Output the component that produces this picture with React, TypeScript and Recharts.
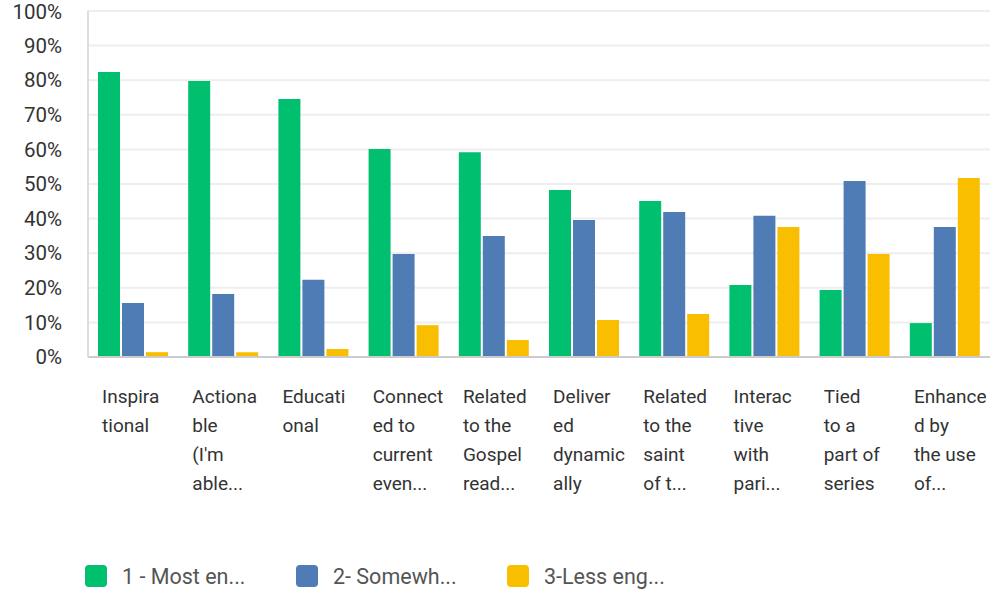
import React from "react";
import {
  BarChart,
  Bar,
  XAxis,
  YAxis,
  CartesianGrid,
  Legend,
} from "recharts";

// category labels, already wrapped the way the reference shows them
const categoryLines: string[][] = [
  ["Inspira", "tional"],
  ["Actiona", "ble", "(I'm", "able..."],
  ["Educati", "onal"],
  ["Connect", "ed to", "current", "even..."],
  ["Related", "to the", "Gospel", "read..."],
  ["Deliver", "ed", "dynamic", "ally"],
  ["Related", "to the", "saint", "of t..."],
  ["Interac", "tive", "with", "pari..."],
  ["Tied", "to a", "part of", "series"],
  ["Enhance", "d by", "the use", "of..."],
];

const mostEngaging = [82.4, 79.8, 74.6, 60.1, 59.2, 48.3, 45.1, 20.8, 19.4, 9.8];
const somewhatEngaging = [15.6, 18.2, 22.3, 29.8, 35.0, 39.6, 41.9, 40.8, 50.9, 37.6];
const lessEngaging = [1.4, 1.4, 2.3, 9.2, 4.9, 10.7, 12.4, 37.6, 29.8, 51.7];

const yTicks = [0, 10, 20, 30, 40, 50, 60, 70, 80, 90, 100];

const series = [
  { key: "most", name: "1 - Most en...", color: "#00BF6F" },
  { key: "somewhat", name: "2- Somewh...", color: "#507CB6" },
  { key: "less", name: "3-Less eng...", color: "#F9BE00" },
];

const data = categoryLines.map((lines, i) => ({
  idx: i,
  most: mostEngaging[i],
  somewhat: somewhatEngaging[i],
  less: lessEngaging[i],
}));

const FONT = "Roboto, 'Noto Sans', sans-serif";

function CategoryTick(props: any) {
  const { x, y, payload } = props;
  const lines = categoryLines[payload.value] || [];
  return (
    <text
      x={x - 31}
      y={y + 44}
      textAnchor="start"
      fill="#333"
      fontSize={19}
      fontFamily={FONT}
    >
      {lines.map((l, i) => (
        <tspan key={i} x={x - 31} dy={i === 0 ? 0 : 29}>
          {l}
        </tspan>
      ))}
    </text>
  );
}

function LegendContent() {
  return (
    <div style={{ display: "flex", fontFamily: FONT }}>
      {series.map((s) => (
        <div
          key={s.key}
          style={{ width: 211, display: "flex", alignItems: "center", height: 36 }}
        >
          <div
            style={{
              width: 22,
              height: 22,
              borderRadius: 4,
              background: s.color,
              marginRight: 15,
            }}
          />
          <span style={{ fontSize: 21.5, color: "#555" }}>{s.name}</span>
        </div>
      ))}
    </div>
  );
}

export default function App() {
  return (
    <div style={{ position: "absolute", left: 0, top: 0, background: "#fff" }}>
      <BarChart
        width={993}
        height={594}
        data={data}
        margin={{ top: 11, right: 3, left: 0, bottom: 0 }}
        barGap={2}
        barSize={22}
      >
        <CartesianGrid vertical={false} stroke="#eeeeee" strokeWidth={2} />
        <XAxis
          dataKey="idx"
          interval={0}
          height={201}
          tickLine={false}
          tickSize={0}
          axisLine={{ stroke: "#cccccc", strokeWidth: 2 }}
          tick={<CategoryTick />}
        />
        <YAxis
          width={88}
          domain={[0, 100]}
          ticks={yTicks}
          tickFormatter={(v: number) => `${v}%`}
          tickLine={false}
          tickSize={0}
          tickMargin={26}
          axisLine={{ stroke: "#dddddd", strokeWidth: 2 }}
          tick={{ fill: "#333", fontSize: 20.5, fontFamily: FONT }}
        />
        <Legend
          content={<LegendContent />}
          height={36}
          wrapperStyle={{ left: 85, top: 558, width: 700 }}
        />
        {series.map((s) => (
          <Bar
            key={s.key}
            dataKey={s.key}
            name={s.name}
            fill={s.color}
            isAnimationActive={false}
          />
        ))}
      </BarChart>
    </div>
  );
}
